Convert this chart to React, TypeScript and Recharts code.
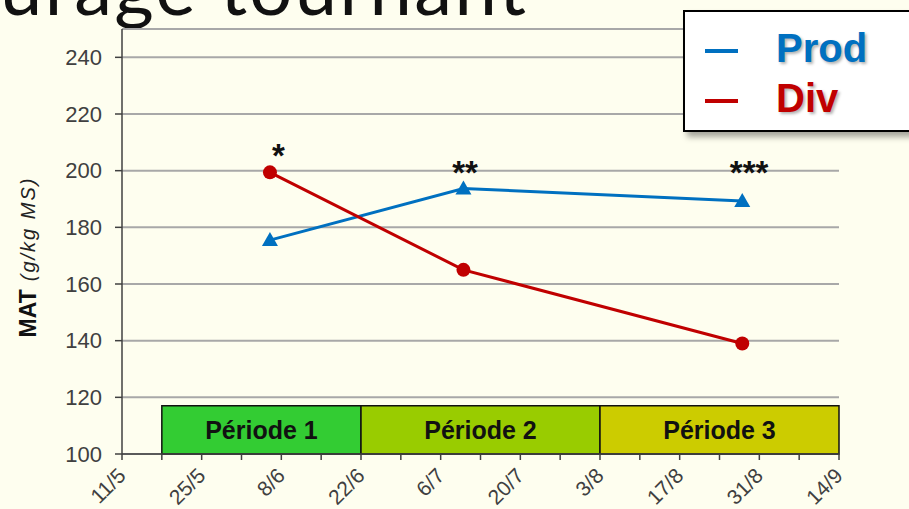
import React from "react";
import { ComposedChart, Line, Scatter, XAxis, YAxis, CartesianGrid, ReferenceArea } from "recharts";

// days counted from 11/5
const dayLabels = ["11/5", "25/5", "8/6", "22/6", "6/7", "20/7", "3/8", "17/8", "31/8", "14/9"];
const dayTicks = [0, 7, 14, 21, 28, 35, 42, 49, 56, 63, 70, 77, 84, 91, 98, 105, 112, 119, 126];
const yTicks = [100, 120, 140, 160, 180, 200, 220, 240];

const prodDays = [26, 60, 109];
const prodValues = [175.5, 193.7, 189.3];
const divDays = [26, 60, 109];
const divValues = [199.4, 165, 139];

const periodNames = ["Période 1", "Période 2", "Période 3"];
const periodStart = [7, 42, 84];
const periodEnd = [42, 84, 126];
const periodTop = 117;

const starLabels = ["*", "**", "***"];
const starDays = [27.5, 60.3, 110.2];
const starValues = [208, 202, 202];

const PROD = "#0070C0";
const DIV = "#C00000";
const periodColors = ["#33CC33", "#99CC00", "#CCCC00"];
const FONT = "'Liberation Sans', Arial, sans-serif";

const prodData = prodDays.map((x, i) => ({ x, y: prodValues[i] }));
const divData = divDays.map((x, i) => ({ x, y: divValues[i] }));
const starData = starDays.map((x, i) => ({ x, y: starValues[i], label: starLabels[i] }));

const XTick = (props: any) => {
  const { x, y, payload } = props;
  const d = payload.value;
  if (d % 14 !== 0) return <g />;
  const ax = x + 5;
  const ay = y + 15;
  return (
    <text x={ax} y={ay} transform={`rotate(-45 ${ax} ${ay})`} textAnchor="end" fontSize={21} fill="#404040" fontFamily={FONT}>
      {dayLabels[d / 14]}
    </text>
  );
};

const Triangle = (props: any) => {
  const { cx, cy } = props;
  if (cx == null || cy == null) return <g />;
  return <path d={`M${cx},${cy - 8} L${cx + 8},${cy + 6} L${cx - 8},${cy + 6} Z`} fill={PROD} />;
};

const Dot = (props: any) => {
  const { cx, cy } = props;
  if (cx == null || cy == null) return <g />;
  return <circle cx={cx} cy={cy} r={7} fill={DIV} />;
};

const Star = (props: any) => {
  const { cx, cy, payload } = props;
  return (
    <text x={cx} y={cy + 19} textAnchor="middle" fontSize={33} fontWeight="bold" fill="#111" fontFamily={FONT}>
      {payload.label}
    </text>
  );
};

const YLabel = () => (
  <text transform="rotate(-90 28 257)" x={28} y={257} textAnchor="middle" dominantBaseline="central" fill="#222" fontFamily={FONT}>
    <tspan fontWeight="bold" fontSize={23} fill="#111">MAT</tspan>
    <tspan fontStyle="italic" fontSize={20} letterSpacing={2} dx={8}>(g/kg MS)</tspan>
  </text>
);

export default function App() {
  return (
    <div style={{ position: "fixed", left: 0, top: 0, width: 909, height: 509, overflow: "hidden", background: "#FEFEEF" }}>
      <svg width={909} height={40} style={{ position: "absolute", left: 0, top: 0 }}>
        <text x={0} y={15} fontSize={76} fill="#111" fontFamily="Lato, sans-serif" textLength={526} lengthAdjust="spacing">
          urage tournant
        </text>
      </svg>
      <div style={{ position: "absolute", left: 0, top: 0 }}>
        <ComposedChart width={909} height={509} margin={{ top: 29, right: 70, left: 0, bottom: 0 }}>
          <CartesianGrid vertical={false} stroke="#a8a8a8" strokeWidth={2} />
          <XAxis
            type="number"
            dataKey="x"
            domain={[0, 126]}
            ticks={dayTicks}
            interval={0}
            height={55}
            tick={<XTick />}
            tickSize={6}
            stroke="#404040"
            strokeWidth={1.5}
          />
          <YAxis
            type="number"
            domain={[100, 250]}
            ticks={yTicks}
            interval={0}
            width={122}
            tickSize={7}
            tickMargin={13}
            stroke="#404040"
            strokeWidth={1.5}
            tick={{ fontSize: 22, fill: "#404040", fontFamily: FONT }}
            label={{ content: () => <YLabel /> }}
          />
          {periodNames.map((name, i) => (
            <ReferenceArea
              key={name}
              x1={periodStart[i]}
              x2={periodEnd[i]}
              y1={100}
              y2={periodTop}
              fill={periodColors[i]}
              fillOpacity={1}
              stroke="#111"
              strokeWidth={1.5}
              label={{ value: name, position: "center", fontSize: 25, fontWeight: "bold", fill: "#111", fontFamily: FONT }}
            />
          ))}
          <Line data={prodData} dataKey="y" stroke={PROD} strokeWidth={3} dot={<Triangle />} activeDot={false} isAnimationActive={false} />
          <Line data={divData} dataKey="y" stroke={DIV} strokeWidth={3} dot={<Dot />} activeDot={false} isAnimationActive={false} />
          <Scatter data={starData} dataKey="y" shape={<Star />} isAnimationActive={false} />
        </ComposedChart>
      </div>
      <div
        style={{
          position: "absolute",
          left: 683,
          top: 10,
          width: 260,
          height: 118,
          border: "2px solid #000",
          background: "#fff",
          boxShadow: "4px 5px 6px rgba(0,0,0,0.35)",
          fontFamily: FONT,
        }}
      >
        <div style={{ position: "absolute", left: 20, top: 37, width: 33, height: 4, background: PROD }} />
        <div style={{ position: "absolute", left: 91, top: 16, fontSize: 40, lineHeight: "40px", fontWeight: "bold", color: PROD, textShadow: "2px 2px 3px rgba(0,0,0,0.3)" }}>
          Prod
        </div>
        <div style={{ position: "absolute", left: 20, top: 87, width: 33, height: 4, background: DIV }} />
        <div style={{ position: "absolute", left: 91, top: 66, fontSize: 40, lineHeight: "40px", fontWeight: "bold", color: DIV, textShadow: "2px 2px 3px rgba(0,0,0,0.3)" }}>
          Div
        </div>
      </div>
    </div>
  );
}
